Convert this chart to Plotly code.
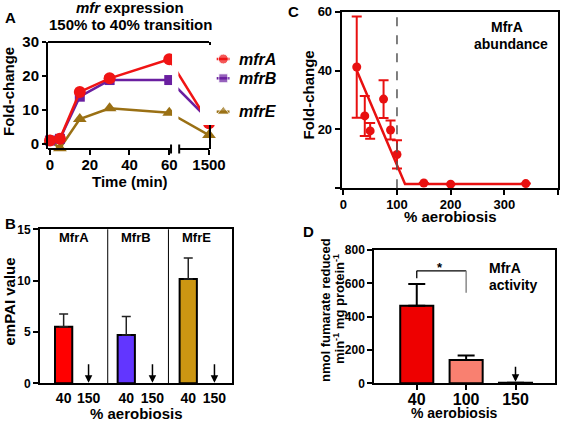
import plotly.graph_objects as go

W, H = 568, 421
FONT = "Liberation Sans, Arial, sans-serif"


def px_x(p):
    return p / W


def px_y(p):
    return 1 - p / H


# ------------------------- data -------------------------
# Panel A: mfr expression, 150% -> 40% transition
time_min = [0, 5, 15, 30, 60, 1500]
mfrA_fc = [1.0, 1.5, 15.3, 19.3, 24.9, 6.1]
mfrB_fc = [1.0, 1.5, 13.9, 18.8, 18.8, 7.0]
mfrE_fc = [1.0, -1.3, 7.3, 10.5, 9.2, 2.6]
a_tick_times = [0, 20, 40, 60, 1500]

# Panel B: emPAI values
proteins = ["MfrA", "MfrB", "MfrE"]
empai_40 = [5.5, 4.7, 10.15]
empai_40_err = [1.25, 1.8, 2.05]
b_conditions = ["40", "150"]

# Panel C: MfrA abundance
aerobiosis_c = [25, 40, 50, 75, 88, 100, 150, 200, 340]
abundance = [41.2, 24.6, 19.5, 30.3, 19.8, 11.5, 1.8, 1.4, 1.6]
abundance_err = [17.2, 6.8, 2.7, 6.4, 3.2, 4.8, 0, 0, 0]
fit_x = [25, 115, 340]
fit_y = [40.0, 1.5, 1.5]

# Panel D: MfrA activity
aerobiosis_d = ["40", "100", "150"]
activity = [466, 140, 4]
activity_err = [130, 27, 0]

# ------------------------- styling -------------------------
colA, colB, colE = "#f01414", "#6a1fa0", "#9a7014"
b_colors = ["#ff0000", "#6236ff", "#cc9612"]
d_colors = ["#ee0000", "#f98070", "#ee0000"]


def a_pos(t):
    # broken time axis: times after 60 min are placed beyond the break
    return t if t <= 60 else 80


fig = go.Figure()

# ---------- Panel A ----------
for name, ys, col, sym, size in [
    ("mfrE", mfrE_fc, colE, "triangle-up", 12),
    ("mfrB", mfrB_fc, colB, "square", 10),
    ("mfrA", mfrA_fc, colA, "circle", 12),
]:
    fig.add_trace(go.Scatter(
        x=[a_pos(t) for t in time_min], y=ys, mode="lines+markers",
        line=dict(color=col, width=2.5),
        marker=dict(symbol=sym, size=size, color=col),
        xaxis="x", yaxis="y", showlegend=False, cliponaxis=False, name=name))

# custom legend for panel A (overlay axis in pixel units)
leg_y = {"mfrA": 59, "mfrB": 78.3, "mfrE": 111.7}
for name, col, sym, size in [("mfrA", colA, "circle", 10),
                             ("mfrB", colB, "square", 9),
                             ("mfrE", colE, "triangle-up", 11)]:
    y = leg_y[name]
    fig.add_trace(go.Scatter(
        x=[216.7, 223.3, 229.5], y=[y, y, y], mode="lines+markers",
        line=dict(color=col, width=2.5),
        marker=dict(symbol=sym, size=[0, size, 0], color=col),
        xaxis="x5", yaxis="y5", showlegend=False, hoverinfo="skip"))

# ---------- Panel B ----------
bar_pos = [0.37, 1.35, 2.32]
arrow_pos = [0.76, 1.76, 2.73]
divider_pos = [1.06, 2.01]
fig.add_trace(go.Bar(
    x=bar_pos, y=empai_40, width=0.27,
    marker=dict(color=b_colors, line=dict(color="black", width=2)),
    error_y=dict(type="data", array=empai_40_err, arrayminus=[0] * 3,
                 symmetric=False, color="#222", thickness=1.5, width=4.5),
    xaxis="x2", yaxis="y2", showlegend=False))

# ---------- Panel C ----------
fig.add_trace(go.Scatter(
    x=fit_x, y=fit_y, mode="lines", line=dict(color="#e81010", width=2.5),
    xaxis="x3", yaxis="y3", showlegend=False))
fig.add_trace(go.Scatter(
    x=aerobiosis_c, y=abundance, mode="markers",
    marker=dict(color="#e81010", size=9),
    error_y=dict(type="data", array=abundance_err, color="#e81010",
                 thickness=2, width=5),
    xaxis="x3", yaxis="y3", showlegend=False, cliponaxis=False))

# ---------- Panel D ----------
d_pos = list(range(len(aerobiosis_d)))
fig.add_trace(go.Bar(
    x=d_pos, y=activity, width=0.67,
    marker=dict(color=d_colors, line=dict(color="black", width=2)),
    error_y=dict(type="data", array=activity_err, arrayminus=[0] * 3,
                 symmetric=False, color="black", thickness=2, width=8.5),
    xaxis="x4", yaxis="y4", showlegend=False))

# ------------------------- axes -------------------------
tick_common = dict(showgrid=False, zeroline=False, ticks="outside",
                   tickwidth=2, tickcolor="black", linecolor="black",
                   linewidth=2, automargin=False)


def tfont(size):
    return dict(family=FONT, size=size, color="black", weight="bold")


fig.update_layout(
    width=W, height=H,
    margin=dict(l=0, r=0, t=0, b=0, pad=0, autoexpand=False),
    autosize=False,
    paper_bgcolor="white", plot_bgcolor="white",
    font=dict(family=FONT, color="black"),
    bargap=0,
    xaxis=dict(domain=[px_x(48), px_x(209)], range=[-1, 80], anchor="y",
               tickvals=[a_pos(t) for t in a_tick_times],
               ticktext=[str(t) for t in a_tick_times],
               showline=False, ticklen=5, tickfont=tfont(15),
               ticklabelstandoff=-3,
               **{k: v for k, v in tick_common.items() if k != "linewidth"}),
    yaxis=dict(domain=[px_y(149), px_y(42)], range=[-1.5, 30], anchor="x",
               tickvals=[0, 10, 20, 30], showline=True, mirror=True,
               ticklen=4, tickfont=tfont(15), **tick_common),
    xaxis2=dict(domain=[px_x(40), px_x(231.7)], range=[0, 3], anchor="y2",
                tickvals=bar_pos + arrow_pos,
                ticktext=[b_conditions[0]] * 3 + [b_conditions[1]] * 3,
                showline=True, mirror=True, linewidth=2, linecolor="black",
                ticks="", showgrid=False, zeroline=False, automargin=False,
                tickfont=tfont(14), ticklabelstandoff=1),
    yaxis2=dict(domain=[px_y(383.3), px_y(229.3)], range=[0, 15],
                anchor="x2", tickvals=[0, 5, 10, 15], showline=True,
                mirror=True, ticklen=5, tickfont=tfont(12), **tick_common),
    xaxis3=dict(domain=[px_x(341.7), px_x(558)], range=[-3, 400],
                anchor="y3", tickvals=[0, 100, 200, 300, 400],
                showline=True, mirror=True, ticklen=5, tickfont=tfont(13),
                ticklabelstandoff=-2, **tick_common),
    yaxis3=dict(domain=[px_y(188.3), px_y(11.7)], range=[0, 60], anchor="x3",
                tickvals=[0, 20, 40, 60], ticktext=["", "20", "40", "60"],
                showline=True, mirror=True, ticklen=5, tickfont=tfont(13),
                **tick_common),
    xaxis4=dict(domain=[px_x(374.3), px_x(555)], range=[-0.86, 2.8],
                anchor="y4", tickvals=d_pos, ticktext=aerobiosis_d,
                showline=True, mirror=True, ticklen=5, tickfont=tfont(16),
                ticklabelstandoff=-5, **tick_common),
    yaxis4=dict(domain=[px_y(383.3), px_y(250)], range=[0, 800], anchor="x4",
                tickvals=[0, 200, 400, 600, 800], showline=True, mirror=True,
                ticklen=5, tickfont=tfont(12), **tick_common),
    xaxis5=dict(domain=[px_x(200), px_x(290)], range=[200, 290],
                anchor="y5", visible=False, fixedrange=True),
    yaxis5=dict(domain=[px_y(125), px_y(45)], range=[125, 45],
                anchor="x5", visible=False, fixedrange=True),
)

# ------------------------- shapes -------------------------
shapes = []
# Panel A: gap in the data lines at the axis break
shapes.append(dict(type="rect", xref="x", yref="y", x0=61.4, x1=64.6,
                   y0=-0.9, y1=28.5, fillcolor="white",
                   line=dict(width=0), layer="above"))
# Panel A: top border
shapes.append(dict(type="line", xref="x domain", yref="y domain", x0=0,
                   x1=1, y0=1, y1=1, line=dict(color="black", width=2),
                   layer="above"))
# Panel A: broken bottom axis
for x0, x1 in [(-1, 60.9), (65.0, 80)]:
    shapes.append(dict(type="line", xref="x", yref="y domain", x0=x0, x1=x1,
                       y0=0, y1=0, line=dict(color="black", width=2),
                       layer="above"))
for xb in [60.9, 65.0]:
    shapes.append(dict(type="line", xref="x", yref="paper", x0=xb, x1=xb,
                       y0=px_y(153.5), y1=px_y(144.5),
                       line=dict(color="black", width=2), layer="above"))
# Panel B: dividers
for xd in divider_pos:
    shapes.append(dict(type="line", xref="x2", yref="y2 domain", x0=xd,
                       x1=xd, y0=0, y1=1, line=dict(color="black", width=1)))
# Panel C: dashed line at 100%
shapes.append(dict(type="line", xref="x3", yref="y3 domain", x0=100, x1=100,
                   y0=0, y1=1, line=dict(color="#555", width=1.5,
                                         dash="dash")))
# Panel D: significance bracket
shapes.append(dict(type="line", xref="x4", yref="y4", x0=0, x1=1, y0=675,
                   y1=675, line=dict(color="black", width=1.3)))
shapes.append(dict(type="line", xref="x4", yref="y4", x0=0, x1=0, y0=675,
                   y1=630, line=dict(color="black", width=1.3)))
shapes.append(dict(type="line", xref="x4", yref="y4", x0=1, x1=1, y0=675,
                   y1=543, line=dict(color="#777", width=1.3)))
fig.update_layout(shapes=shapes)

# ------------------------- annotations -------------------------
anns = []


def ann(text, x, y, size, angle=0, xanchor="center", italic=False):
    anns.append(dict(
        text=text, x=px_x(x), y=px_y(y), xref="paper", yref="paper",
        xanchor=xanchor, yanchor="middle", showarrow=False, textangle=angle,
        font=dict(family=FONT, size=size, color="black", weight="bold",
                  style="italic" if italic else "normal")))


# panel letters
ann("A", 10, 17, 15)
ann("C", 293, 12, 15)
ann("B", 10, 223, 15)
ann("D", 308, 232, 15)

# Panel A texts
ann("<i>mfr</i> expression", 130, 8, 15)
ann("150% to 40% transition", 130, 25, 15)
ann("Fold-change", 8, 92, 15, angle=-90)
ann("Time (min)", 130, 181, 15)
for name in ["mfrA", "mfrB", "mfrE"]:
    ann(name, 236.5, leg_y[name], 16, xanchor="left", italic=True)

# Panel B texts
for name, xp in zip(proteins, [74, 135.5, 196]):
    ann(name, xp, 237, 13)
ann("emPAI value", 8.5, 302, 15, angle=-90)
ann("% aerobiosis", 136, 413, 15)

# Panel C texts
ann("Fold-change", 308.5, 95, 15, angle=-90)
ann("% aerobiosis", 450, 216, 15)
ann("MfrA", 507, 27, 14)
ann("abundance", 511, 43.5, 14)

# Panel D texts
ann("nmol fumarate reduced", 325, 310, 13, angle=-90)
ann("min<sup>-1</sup> mg protein<sup>-1</sup>", 339, 309, 13, angle=-90)
ann("% aerobiosis", 454, 413, 14)
ann("MfrA", 505, 268, 14)
ann("activity", 513, 285, 14)
ann("*", 440, 267, 13)

# arrows: not detected at 150% aerobiosis
for xa in arrow_pos:
    anns.append(dict(x=xa, y=0.05, xref="x2", yref="y2", ax=0, ay=2.0,
                     axref="pixel", ayref="y2", showarrow=True, arrowhead=2,
                     arrowsize=1, arrowwidth=1.5, arrowcolor="black",
                     text=""))
anns.append(dict(x=2, y=10, xref="x4", yref="y4", ax=0, ay=108,
                 axref="pixel", ayref="y4", showarrow=True, arrowhead=2,
                 arrowsize=1, arrowwidth=1.5, arrowcolor="black", text=""))

fig.update_layout(annotations=anns)

fig.write_html(
    "out.html",
    config={"displayModeBar": False, "staticPlot": True},
    post_script="document.body.style.margin='0';"
                "document.body.style.overflow='hidden';",
)
